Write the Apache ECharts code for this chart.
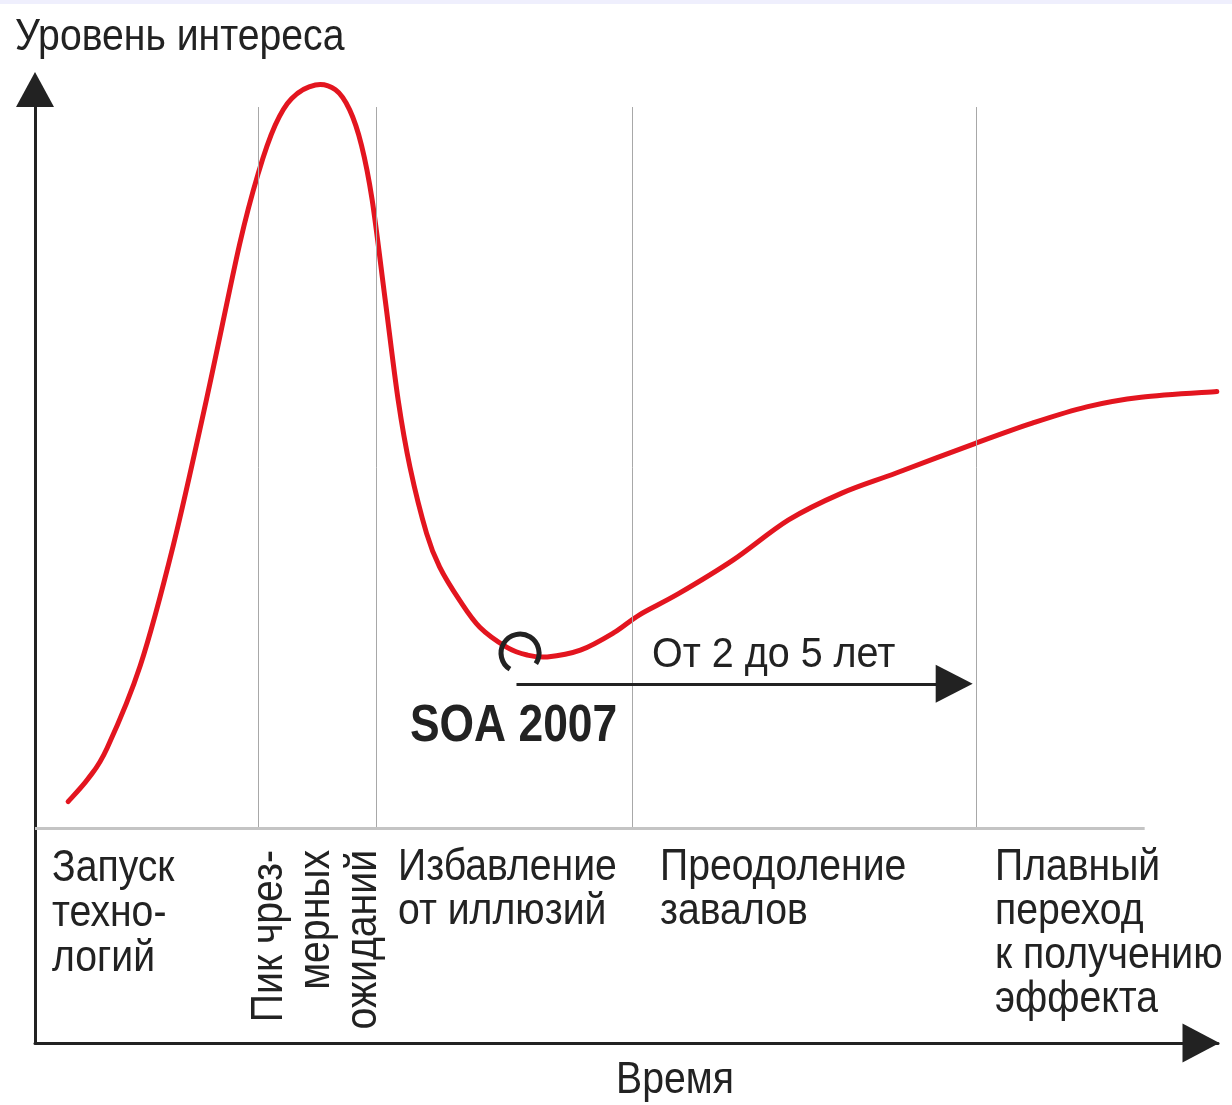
<!DOCTYPE html>
<html>
<head>
<meta charset="utf-8">
<style>
  html, body { margin: 0; padding: 0; background: #fff; }
  #chart { width: 1232px; height: 1105px; }
</style>
<script src="https://cdn.jsdelivr.net/npm/echarts@6/dist/echarts.min.js"></script>
</head>
<body>
<div id="chart"></div>
<script>
// hype curve: time on x (0..100), level of interest on y (0..100)
var curveTime = [2.8, 4.5, 6.1, 8.9, 11.7, 14.5, 17.3, 18.9, 20.3, 21.7, 23.7, 25.4, 26.6, 27.6, 28.5,
  29.6, 30.7, 31.7, 33.1, 34.2, 35.9, 37.6, 39.9, 41.6, 43.3, 46.1, 48.9, 51.1, 54.4, 59.0,
  63.7, 68.2, 72.8, 79.5, 84.3, 88.9, 93.5, 99.9];
var curveInterest = [25.2, 27.6, 30.8, 39.4, 52.0, 67.2, 83.4, 90.9, 95.8, 98.6, 100, 99.5, 97.4, 93.7, 88.0,
  77.6, 67.1, 60.1, 53.2, 49.7, 46.2, 43.4, 41.3, 40.5, 40.3, 41.0, 42.8, 44.7, 46.9, 50.4,
  54.6, 57.4, 59.5, 62.6, 64.7, 66.4, 67.4, 68.0];

// phase boundaries (time) and the baseline under the curve
var phaseBounds = [18.85, 28.83, 50.47, 79.54];
var phaseTop = 97.7;
var baseLevel = 22.4;
var baseEnd = 93.8;

// SOA in 2007 and the 2-5 years arrow
var soaPoint = [41.0, 40.7];
var arrowFrom = [40.7, 37.5];
var arrowTo = [77.7, 37.5];

var yTitle = "Уровень интереса";
var xTitle = "Время";
var soaLabel = "SOA 2007";
var arrowLabel = "От 2 до 5 лет";
var phaseLabels = [
  "Запуск\nтехно-\nлогий",
  "Пик чрез-\nмерных\nожиданий",
  "Избавление\nот иллюзий",
  "Преодоление\nзавалов",
  "Плавный\nпереход\nк получению\nэффекта"
];

var FONT = '"Liberation Sans", Arimo, Arial, sans-serif';
var INK = "#222";
var NARROW = 0.89;

var chart = echarts.init(document.getElementById("chart"));

var curveData = curveTime.map(function (t, i) {
  return [t, curveInterest[i]];
});

var phaseLines = phaseBounds.map(function (x) {
  return [{ coord: [x, baseLevel] }, { coord: [x, phaseTop] }];
});
phaseLines.push([
  { coord: [0, baseLevel], lineStyle: { width: 3, color: "#c4c4c4" } },
  { coord: [baseEnd, baseLevel] }
]);

// smooth curve through the points (catmull-rom -> cubic bezier), in pixel space
function renderCurve(params, api) {
  if (params.dataIndex !== 0) return null;
  var pts = curveData.map(function (d) { return api.coord(d); });
  var n = pts.length;
  var d = "M" + pts[0][0] + " " + pts[0][1];
  for (var i = 0; i < n - 1; i++) {
    var p0 = pts[Math.max(i - 1, 0)];
    var p1 = pts[i];
    var p2 = pts[i + 1];
    var p3 = pts[Math.min(i + 2, n - 1)];
    var c1x = p1[0] + (p2[0] - p0[0]) / 6;
    var c1y = p1[1] + (p2[1] - p0[1]) / 6;
    var c2x = p2[0] - (p3[0] - p1[0]) / 6;
    var c2y = p2[1] - (p3[1] - p1[1]) / 6;
    d += " C" + c1x + " " + c1y + " " + c2x + " " + c2y + " " + p2[0] + " " + p2[1];
  }
  return {
    type: "path",
    shape: { pathData: d },
    style: { stroke: "#e3151f", lineWidth: 5, fill: "none", lineCap: "round", lineJoin: "round" }
  };
}

// condensed-looking text: scale the glyphs horizontally around the anchor
function label(text, x, y, opts) {
  opts = opts || {};
  return {
    type: "text",
    x: x,
    y: y,
    rotation: opts.rot || 0,
    scaleX: opts.sx || NARROW,
    style: {
      text: text,
      x: 0,
      y: 0,
      fill: INK,
      font: (opts.bold ? "bold " : "") + (opts.size || 44) + "px " + FONT,
      align: opts.align || "left",
      verticalAlign: opts.va || "middle",
      lineHeight: opts.lh || 45
    }
  };
}

var option = {
  animation: false,
  backgroundColor: "#fff",
  grid: { left: 35, right: 14, top: 85, bottom: 62 },
  xAxis: {
    type: "value",
    min: 0,
    max: 100,
    splitLine: { show: false },
    axisTick: { show: false },
    axisLabel: { show: false },
    axisLine: {
      show: true,
      symbol: ["none", "triangle"],
      symbolSize: [39, 37],
      symbolOffset: [0, -17],
      lineStyle: { color: INK, width: 3 }
    }
  },
  yAxis: {
    type: "value",
    min: 0,
    max: 100,
    offset: 2,
    splitLine: { show: false },
    axisTick: { show: false },
    axisLabel: { show: false },
    axisLine: {
      show: true,
      symbol: ["none", "triangle"],
      symbolSize: [38, 35],
      symbolOffset: [0, -4.5],
      lineStyle: { color: INK, width: 3 }
    }
  },
  series: [
    {
      name: "phases",
      type: "line",
      data: [],
      z: 1,
      markLine: {
        silent: true,
        symbol: ["none", "none"],
        label: { show: false },
        lineStyle: { color: "#a8a8a8", width: 1, type: "solid" },
        data: phaseLines
      }
    },
    {
      name: "interest",
      type: "custom",
      data: curveData,
      z: 3,
      renderItem: renderCurve
    },
    {
      name: "range",
      type: "line",
      data: [],
      z: 4,
      markLine: {
        silent: true,
        symbol: ["none", "triangle"],
        symbolSize: [38, 37],
        label: { show: false },
        lineStyle: { color: INK, width: 3, type: "solid" },
        data: [[{ coord: arrowFrom }, { coord: arrowTo }]]
      }
    },
    {
      name: "soa",
      type: "custom",
      data: [soaPoint],
      z: 5,
      renderItem: function (params, api) {
        var p = api.coord([api.value(0), api.value(1)]);
        return {
          type: "arc",
          shape: { cx: p[0], cy: p[1], r: 19, startAngle: 2.13, endAngle: 0.59 + Math.PI * 2, clockwise: true },
          style: { stroke: INK, lineWidth: 5, fill: "none" }
        };
      }
    }
  ],
  graphic: [
    { type: "rect", shape: { x: 0, y: 0, width: 1232, height: 4 }, style: { fill: "#efeffd" } },
    label(yTitle, 15, 38),
    label(xTitle, 675, 1081, { align: "center" }),
    label(soaLabel, 410, 727, { bold: true, size: 51, sx: 0.87 }),
    label(arrowLabel, 652, 655, { size: 42, sx: 0.94 }),
    label(phaseLabels[0], 52, 846, { va: "top" }),
    label(phaseLabels[1], 317, 850, { rot: Math.PI / 2, align: "right", lh: 47 }),
    label(phaseLabels[2], 398, 846, { va: "top", lh: 44 }),
    label(phaseLabels[3], 660, 846, { va: "top", lh: 44 }),
    label(phaseLabels[4], 995, 846, { va: "top", lh: 44 })
  ]
};

chart.setOption(option);
</script>
</body>
</html>
